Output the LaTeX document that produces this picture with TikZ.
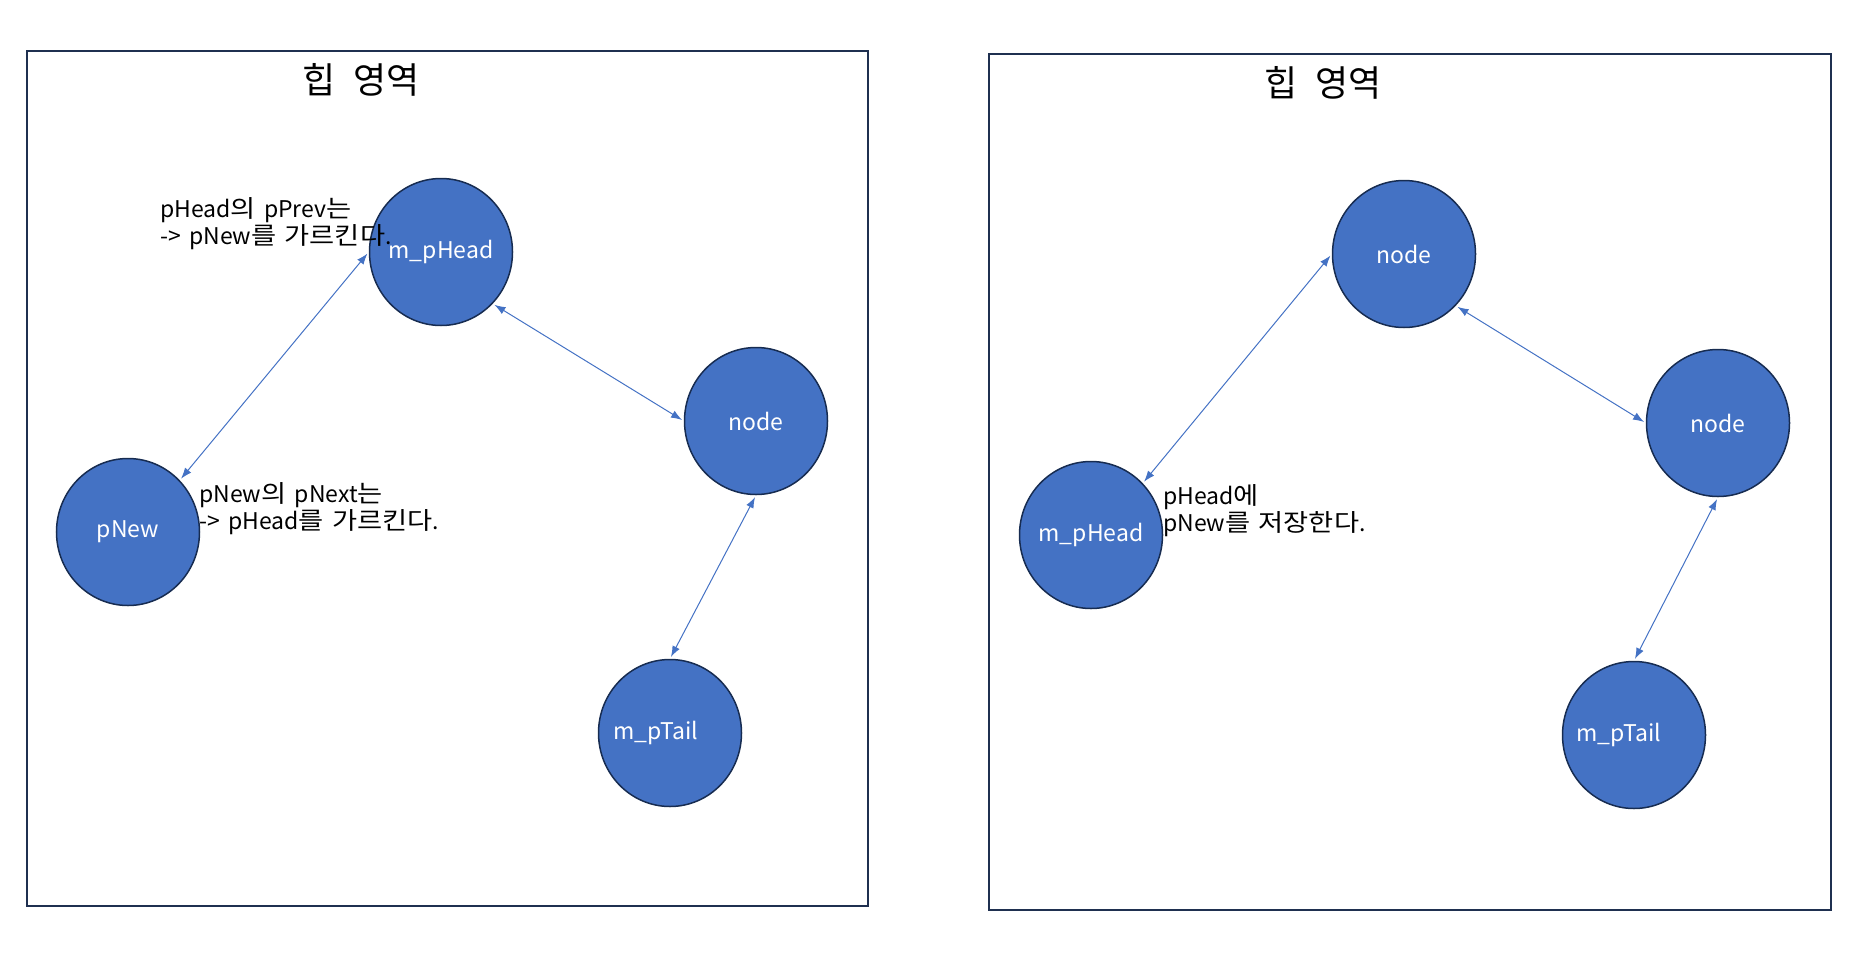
\documentclass[tikz,border=0pt]{standalone}
\usepackage{fontspec}
\setmainfont{Noto Sans CJK KR}[WordSpace=1.6]
\newfontfamily\hgfont{Noto Sans CJK KR}[Scale=1.05,FakeStretch=1.13]
\newfontfamily\titlefont{Noto Sans CJK KR}[WordSpace=2.3]
\usetikzlibrary{arrows.meta,shapes.geometric}
\definecolor{nodeblue}{HTML}{4472C4}
\definecolor{rimnavy}{HTML}{172C51}
\definecolor{boxnavy}{HTML}{1F3050}
\newcommand{\hg}[1]{{\hgfont #1}}
\begin{document}
\begin{tikzpicture}[x=1bp,y=-1bp,
  ll/.style={ellipse,draw=rimnavy,line width=1.5bp,fill=nodeblue,minimum width=143bp,minimum height=147bp,inner sep=-10bp,text=white,font=\fontsize{23bp}{27bp}\selectfont},
  link/.style={draw=nodeblue,line width=1bp,{Latex[length=11bp,width=8bp]}-{Latex[length=11bp,width=8bp]},shorten <=2bp,shorten >=2bp},
  heap/.style={rectangle,draw=boxnavy,line width=2bp,inner sep=0pt},
  heaptitle/.style={font=\titlefont\fontsize{36bp}{40bp}\selectfont,anchor=base west,inner sep=0pt},
  note/.style={font=\fontsize{23bp}{27bp}\selectfont,anchor=base west,align=left,inner sep=0pt}]
\useasboundingbox (0,0) rectangle (1863,977);
% boxes
\node[heap,minimum width=841bp,minimum height=855bp,anchor=north west] (boxL) at (26,50) {};
\node[heap,minimum width=842bp,minimum height=856bp,anchor=north west] (boxR) at (988,53) {};
% titles
\node[heaptitle] (titleL) at (302,93) {힙 영역};
\node[heaptitle] (titleR) at (1264,96) {힙 영역};
% left nodes
\node[ll] (hL) at (441,252) {m\_pHead};
\node[ll] (nL) at (756,421) {node};
\node[ll] (pL) at (128,532) {pNew};
\node[ll,label={[text=white,font=\fontsize{23bp}{27bp}\selectfont,xshift=-14bp]center:m\_pTail}] (tL) at (670,733) {};
% right nodes
\node[ll] (n1R) at (1404,254) {node};
\node[ll] (n2R) at (1718,423) {node};
\node[ll] (hR) at (1091,535) {m\_pHead};
\node[ll,label={[text=white,font=\fontsize{23bp}{27bp}\selectfont,xshift=-15bp]center:m\_pTail}] (tR) at (1634,735) {};
% links
\draw[link] (pL.45) -- (hL.180);
\draw[link] (hL.-45) -- (nL.180);
\draw[link] (nL.-90) -- (tL.90);
\draw[link] (hR.45) -- (n1R.180);
\draw[link] (n1R.-45) -- (n2R.180);
\draw[link] (n2R.-90) -- (tR.90);
% notes (anchor at the baseline of the last line)
\node[note] (noteA) at (160,244) {pHead\hg{의} pPrev\hg{는}\\-> pNew\hg{를} \hg{가르킨다}.};
\node[note] (noteB) at (199,529) {pNew\hg{의} pNext\hg{는}\\-> pHead\hg{를} \hg{가르킨다}.};
\node[note] (noteC) at (1163,531) {pHead\hg{에}\\pNew\hg{를} \hg{저장한다}.};
\end{tikzpicture}
\end{document}
